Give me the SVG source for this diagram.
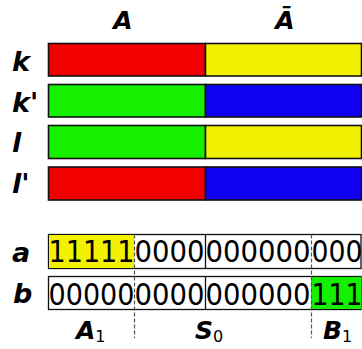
<svg xmlns="http://www.w3.org/2000/svg" width="362" height="349" viewBox="0 0 362 349">
<style>
.lbl{font-family:"DejaVu Sans",sans-serif;font-weight:bold;font-style:italic;font-size:27px;fill:#000}
.hd{font-family:"DejaVu Sans",sans-serif;font-weight:bold;font-style:italic;font-size:25px;fill:#000}
.sub{font-family:"DejaVu Sans",sans-serif;font-size:16px;fill:#000}
.dig{font-family:"DejaVu Sans Condensed","DejaVu Sans",sans-serif;font-stretch:condensed;font-size:30px;fill:#000}
.bar{stroke:#111;stroke-width:1.6}
.cell{fill:#fff;stroke:#111;stroke-width:1.3}
.dash{stroke:#555;stroke-width:1.2;stroke-dasharray:4,2;fill:none}
</style>
<rect width="362" height="349" fill="#fff"/>
<g id="headers">
<text class="hd" x="123" y="29" text-anchor="middle">A</text>
<text class="hd" x="285" y="29" text-anchor="middle">Ā</text>
</g>
<g id="k">
<text class="lbl" x="12" y="71">k</text>
<rect class="bar" x="48.5" y="43.5" width="157" height="32.5" fill="#f20000"/>
<rect class="bar" x="205.5" y="43.5" width="156" height="32.5" fill="#f2f200"/>
</g>
<g id="k2">
<text class="lbl" x="12" y="112">k'</text>
<rect class="bar" x="48.5" y="84.5" width="157" height="32.5" fill="#14f000"/>
<rect class="bar" x="205.5" y="84.5" width="156" height="32.5" fill="#1000f2"/>
</g>
<g id="l">
<text class="lbl" x="12" y="152">l</text>
<rect class="bar" x="48.5" y="125.5" width="157" height="33" fill="#14f000"/>
<rect class="bar" x="205.5" y="125.5" width="156" height="33" fill="#f2f200"/>
</g>
<g id="l2">
<text class="lbl" x="12" y="193">l'</text>
<rect class="bar" x="48.5" y="167" width="157" height="33" fill="#f20000"/>
<rect class="bar" x="205.5" y="167" width="156" height="33" fill="#1000f2"/>
</g>
<g id="a">
<text class="lbl" x="12" y="262">a</text>
<rect class="cell" x="48.5" y="234.5" width="312.5" height="34"/>
<rect x="49" y="235" width="85" height="33" fill="#f2f200"/>
<line x1="205.5" y1="234.5" x2="205.5" y2="268.5" stroke="#111" stroke-width="1.3"/>
<text class="dig" x="48.5" y="262" textLength="86" lengthAdjust="spacingAndGlyphs">11111</text>
<text class="dig" x="134.5" y="262" textLength="70" lengthAdjust="spacingAndGlyphs">0000</text>
<text class="dig" x="205.5" y="262" textLength="105" lengthAdjust="spacingAndGlyphs">000000</text>
<text class="dig" x="311.5" y="262" textLength="51" lengthAdjust="spacingAndGlyphs">000</text>
</g>
<g id="b">
<text class="lbl" x="13" y="303">b</text>
<rect class="cell" x="48.5" y="276.5" width="312.5" height="33"/>
<rect x="311" y="277" width="50" height="32" fill="#14f000"/>
<line x1="205.5" y1="276.5" x2="205.5" y2="309.5" stroke="#111" stroke-width="1.3"/>
<text class="dig" x="48.5" y="305" textLength="86" lengthAdjust="spacingAndGlyphs">00000</text>
<text class="dig" x="134.5" y="305" textLength="70" lengthAdjust="spacingAndGlyphs">0000</text>
<text class="dig" x="205.5" y="305" textLength="105" lengthAdjust="spacingAndGlyphs">000000</text>
<text class="dig" x="311.5" y="305" textLength="51" lengthAdjust="spacingAndGlyphs">111</text>
</g>
<g id="connectors">
<line class="dash" x1="134.5" y1="234.5" x2="134.5" y2="338"/>
<line class="dash" x1="311.5" y1="234.5" x2="311.5" y2="338"/>
</g>
<g id="bottom">
<text class="hd" x="76" y="339">A<tspan class="sub" dy="3" font-style="normal" font-weight="normal">1</tspan></text>
<text class="hd" x="195" y="339">S<tspan class="sub" dy="3" font-style="normal" font-weight="normal">0</tspan></text>
<text class="hd" x="323" y="339">B<tspan class="sub" dy="3" font-style="normal" font-weight="normal">1</tspan></text>
</g>
</svg>
